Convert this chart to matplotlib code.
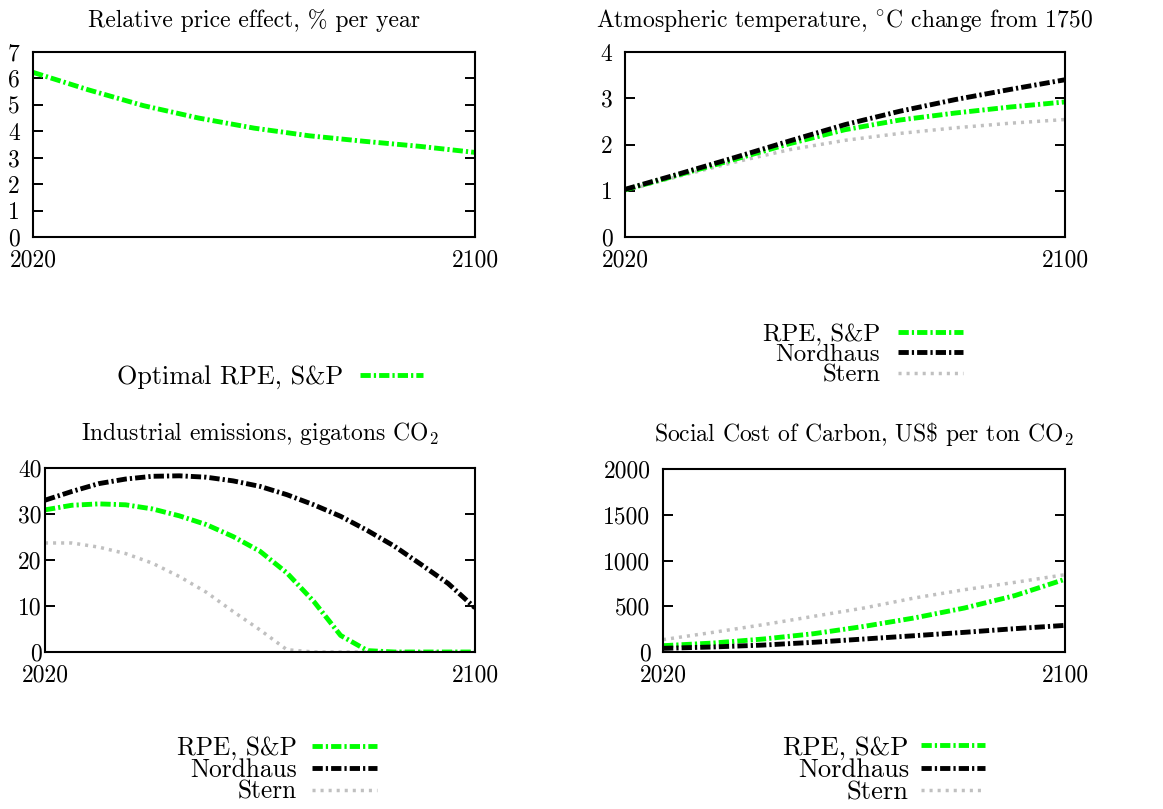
import matplotlib
matplotlib.use('Agg')
import matplotlib.pyplot as plt

plt.rcParams['font.family'] = ['cmr10', 'DejaVu Serif']
plt.rcParams['mathtext.fontset'] = 'cm'
plt.rcParams['axes.formatter.use_mathtext'] = True
plt.rcParams['axes.unicode_minus'] = False
plt.rcParams['lines.scale_dashes'] = False

# ---------------- data ----------------
years10 = [2020, 2030, 2040, 2050, 2060, 2070, 2080, 2090, 2100]
years5 = [2020, 2025, 2030, 2035, 2040, 2045, 2050, 2055, 2060,
          2065, 2070, 2075, 2080, 2085, 2090, 2095, 2100]

rpe_effect = [6.23, 5.57, 4.97, 4.50, 4.12, 3.83, 3.62, 3.43, 3.20]

temp_rpe = [1.02, 1.35, 1.68, 2.02, 2.32, 2.53, 2.68, 2.81, 2.92]
temp_nordhaus = [1.03, 1.37, 1.72, 2.08, 2.43, 2.72, 2.97, 3.19, 3.40]
temp_stern = [1.00, 1.32, 1.62, 1.89, 2.09, 2.24, 2.36, 2.46, 2.54]

emis_rpe = [30.9, 31.9, 32.2, 32.0, 31.1, 29.6, 27.7, 25.1, 21.9,
            17.2, 11.0, 3.6, 0.3, 0.0, 0.0, 0.0, 0.0]
emis_nordhaus = [33.0, 34.9, 36.6, 37.6, 38.2, 38.3, 38.0, 37.2, 36.0,
                 34.2, 32.0, 29.5, 26.4, 23.0, 19.0, 14.9, 9.6]
emis_stern = [23.7, 23.7, 22.8, 21.4, 19.3, 16.4, 13.0, 8.8, 4.8,
              0.5, 0.0, 0.0, 0.0, 0.0, 0.0, 0.0, 0.0]

scc_rpe = [69, 98, 142, 200, 280, 372, 481, 616, 795]
scc_nordhaus = [40, 55, 76, 106, 142, 178, 215, 255, 291]
scc_stern = [135, 215, 299, 390, 481, 590, 681, 761, 845]

x_ticks = [2020, 2100]
yticks_rpe = [0, 1, 2, 3, 4, 5, 6, 7]
yticks_temp = [0, 1, 2, 3, 4]
yticks_emis = [0, 10, 20, 30, 40]
yticks_scc = [0, 500, 1000, 1500, 2000]

title_rpe = "Relative price effect, % per year"
title_temp = r"Atmospheric temperature, $^{\circ}$C change from 1750"
title_emis = "Industrial emissions, gigatons CO$_2$"
title_scc = r"Social Cost of Carbon, US\$ per ton CO$_2$"

label_opt = "Optimal RPE, S&P"
label_rpe = "RPE, S&P"
label_nord = "Nordhaus"
label_stern = "Stern"

# ---------------- style ----------------
GREEN = '#00ff00'
BLACK = '#000000'
GRAY = '#c0c0c0'
DASHDOT = (7.4, 2.2, 1.6, 2.2)
DOTS = (2.2, 3.6)
LW = 3.5
LW_DOT = 2.5
FS = 17

W, H = 1163, 809
fig = plt.figure(figsize=(W / 100, H / 100), dpi=100)


def add_ax(left, right, top, bottom):
    return fig.add_axes([left / W, 1 - bottom / H, (right - left) / W, (bottom - top) / H])


def style(ax, yticks, ylim, title, title_pad, ypad):
    ax.set_xlim(2020, 2100)
    ax.set_ylim(*ylim)
    ax.set_xticks(x_ticks)
    ax.set_xticklabels([str(v) for v in x_ticks])
    ax.set_yticks(yticks)
    ax.set_yticklabels([str(v) for v in yticks])
    ax.tick_params(axis='both', direction='in', length=7, width=1.4,
                   labelsize=FS, right=True, top=True)
    ax.tick_params(axis='y', pad=ypad)
    ax.tick_params(axis='x', pad=9)
    for s in ax.spines.values():
        s.set_linewidth(1.5)
    ax.set_title(title, fontsize=FS, pad=title_pad)


def line(ax, x, y, color, label, dotted=False):
    if dotted:
        l, = ax.plot(x, y, color=color, lw=LW_DOT, label=label)
        l.set_dashes(DOTS)
    else:
        l, = ax.plot(x, y, color=color, lw=LW, label=label)
        l.set_dashes(DASHDOT)
    l.set_dash_capstyle('butt')
    return l


def legend(ax, right_px, center_px, fs, hl, tp, ls, order=None):
    h, l = ax.get_legend_handles_labels()
    if order is not None:
        h = [h[i] for i in order]
        l = [l[i] for i in order]
    ax.legend(h, l, loc='center right', bbox_to_anchor=(right_px / W, 1 - center_px / H),
              bbox_transform=fig.transFigure, frameon=False, markerfirst=False,
              fontsize=fs, handlelength=hl, handletextpad=tp,
              labelspacing=ls, borderpad=0, borderaxespad=0)


# Panel 1
ax1 = add_ax(33, 475, 52, 237)
line(ax1, years10, rpe_effect, GREEN, label_opt)
style(ax1, yticks_rpe, (0, 7), title_rpe, 18, 9.5)
legend(ax1, 423, 377, 18.8, 2.42, 0.65, 0)

# Panel 2
ax2 = add_ax(625, 1065, 52, 237)
line(ax2, years10, temp_stern, GRAY, label_stern, dotted=True)
line(ax2, years10, temp_rpe, GREEN, label_rpe)
line(ax2, years10, temp_nordhaus, BLACK, label_nord)
style(ax2, yticks_temp, (0, 4), title_temp, 18, 9)
legend(ax2, 963, 355, 17.9, 2.61, 0.72, -0.09, order=[1, 2, 0])

# Panel 3
ax3 = add_ax(45, 475, 468, 652)
line(ax3, years5, emis_stern, GRAY, label_stern, dotted=True)
line(ax3, years5, emis_rpe, GREEN, label_rpe)
line(ax3, years5, emis_nordhaus, BLACK, label_nord)
style(ax3, yticks_emis, (0, 40), title_emis, 20, 2.5)
legend(ax3, 377, 770, 18.3, 2.56, 0.59, -0.085, order=[1, 2, 0])

# Panel 4
ax4 = add_ax(663, 1065, 469, 652)
line(ax4, years10, scc_stern, GRAY, label_stern, dotted=True)
line(ax4, years10, scc_rpe, GREEN, label_rpe)
line(ax4, years10, scc_nordhaus, BLACK, label_nord)
style(ax4, yticks_scc, (0, 2000), title_scc, 20, 9)
legend(ax4, 985, 770, 19.1, 2.42, 0.45, -0.05, order=[1, 2, 0])

fig.savefig('out.png', dpi=100)
